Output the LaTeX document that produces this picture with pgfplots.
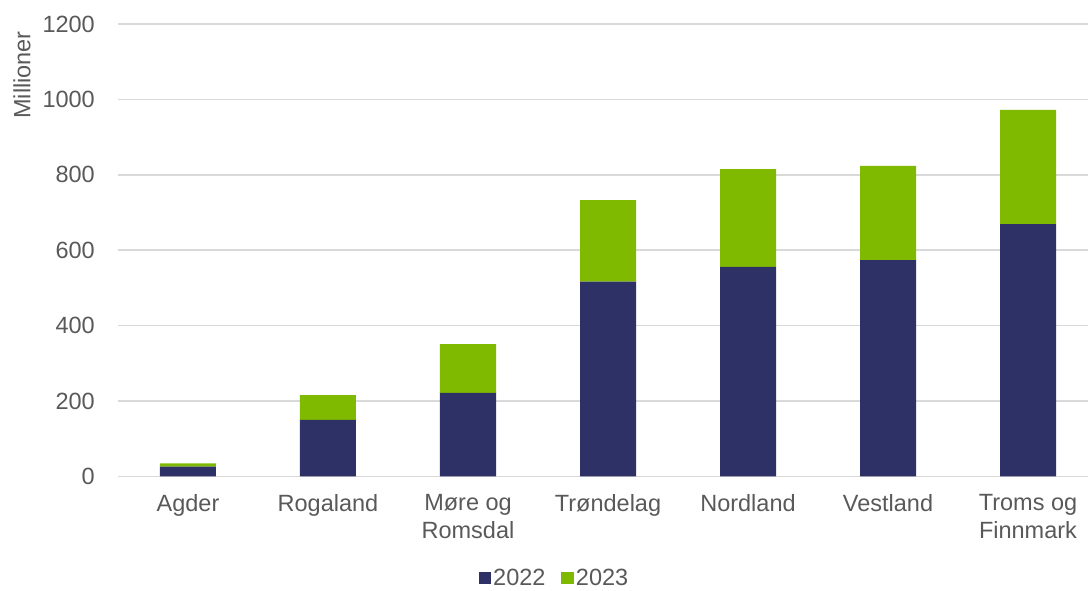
\documentclass[border=0pt]{standalone}
\usepackage{fontspec}
\setmainfont{Liberation Sans}
\usepackage{pgfplots}
\pgfplotsset{compat=1.18}
\usepackage{pgfplotstable}

\definecolor{navy}{RGB}{46,49,102}
\definecolor{lime}{RGB}{127,186,0}
\definecolor{gridgray}{RGB}{217,217,217}
\definecolor{textgray}{RGB}{89,89,89}

% Utbetalinger per fylke (millioner kroner)
\pgfplotstableread{
x  y2022 y2023
0  26    9
1  150   66
2  222   129
3  517   216
4  556   259
5  574   250
6  669   303
}\fylker

\begin{document}
\begin{tikzpicture}
\path[use as bounding box] (-118pt,-114.5pt) rectangle (970pt,476.5pt);
\begin{axis}[
  at={(0pt,0pt)}, anchor=south west,
  scale only axis,
  width=970pt, height=452.5pt,
  ybar stacked, bar width=56pt,
  xmin=-0.5, xmax=6.4286,
  ymin=0, ymax=1200,
  ytick={0,200,...,1200},
  xtick=data,
  xticklabels={Agder, Rogaland, {Møre og\\Romsdal}, Trøndelag, Nordland, Vestland, {Troms og\\Finnmark}},
  axis line style={draw=none},
  major tick length=0pt,
  ymajorgrids=true,
  grid style={gridgray, line width=1.5pt},
  /pgf/number format/.cd, 1000 sep={}, assume math mode=true,
  /pgfplots/.cd,
  tick label style={font=\fontsize{23.5}{28}\selectfont, text=textgray},
  yticklabel style={anchor=east, inner sep=0pt, xshift=-23pt},
  xticklabel style={anchor=north, inner sep=0pt, yshift=-17.5pt, align=center},
  legend columns=2,
  legend style={draw=none, fill=none, at={(0.45,-0.224)}, anchor=center,
    font=\fontsize{23.5}{28}\selectfont, text=textgray,
    /tikz/every even column/.append style={column sep=14pt},
    inner sep=0pt},
  legend image code/.code={\fill[#1] (0pt,-6.25pt) rectangle (12.5pt,6.25pt);},
  clip=false,
]
\addplot[fill=navy, draw=none] table[x=x, y=y2022] {\fylker};
\addplot[fill=lime, draw=none] table[x=x, y=y2023] {\fylker};
\legend{2022, 2023}
\end{axis}
\node[rotate=90, font=\fontsize{23.5}{28}\selectfont, text=textgray] at (-96pt,401.5pt) {Millioner};
\end{tikzpicture}
\end{document}
